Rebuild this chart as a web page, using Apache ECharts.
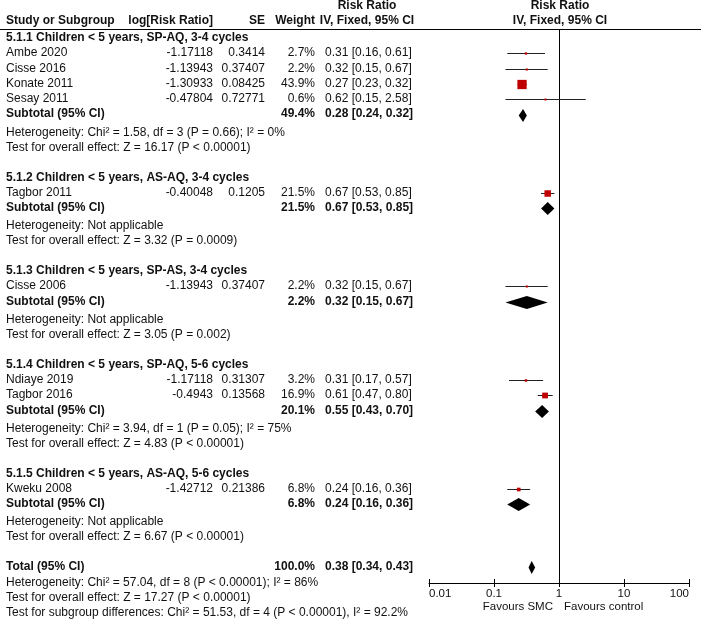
<!DOCTYPE html>
<html><head><meta charset="utf-8">
<script src="https://cdn.jsdelivr.net/npm/echarts@6/dist/echarts.min.js"></script>
<style>html,body{margin:0;padding:0;background:#fff}#c{width:701px;height:624px}</style>
</head><body><div id="c"></div><script>
// ---------- DATA ----------
const groupTitles = [
  '5.1.1 Children < 5 years, SP-AQ, 3-4 cycles',
  '5.1.2 Children < 5 years, AS-AQ, 3-4 cycles',
  '5.1.3 Children < 5 years, SP-AS, 3-4 cycles',
  '5.1.4 Children < 5 years, SP-AQ, 5-6 cycles',
  '5.1.5 Children < 5 years, AS-AQ, 5-6 cycles'
];
const studyNames = ['Ambe 2020','Cisse 2016','Konate 2011','Sesay 2011','Tagbor 2011','Cisse 2006','Ndiaye 2019','Tagbor 2016','Kweku 2008'];
const studyGroup = [0,0,0,0,1,2,3,3,4];
const logRR  = ['-1.17118','-1.13943','-1.30933','-0.47804','-0.40048','-1.13943','-1.17118','-0.4943','-1.42712'];
const seVals = ['0.3414','0.37407','0.08425','0.72771','0.1205','0.37407','0.31307','0.13568','0.21386'];
const weight = [2.7, 2.2, 43.9, 0.6, 21.5, 2.2, 3.2, 16.9, 6.8];
const rr     = [0.31, 0.32, 0.27, 0.62, 0.67, 0.32, 0.31, 0.61, 0.24];
const rrLow  = [0.16, 0.15, 0.23, 0.15, 0.53, 0.15, 0.17, 0.47, 0.16];
const rrHigh = [0.61, 0.67, 0.32, 2.58, 0.85, 0.67, 0.57, 0.80, 0.36];
const subWeight = [49.4, 21.5, 2.2, 20.1, 6.8];
const subRR     = [0.28, 0.67, 0.32, 0.55, 0.24];
const subLow    = [0.24, 0.53, 0.15, 0.43, 0.16];
const subHigh   = [0.32, 0.85, 0.67, 0.70, 0.36];
const hetTexts = [
  'Heterogeneity: Chi\u00b2 = 1.58, df = 3 (P = 0.66); I\u00b2 = 0%',
  'Heterogeneity: Not applicable',
  'Heterogeneity: Not applicable',
  'Heterogeneity: Chi\u00b2 = 3.94, df = 1 (P = 0.05); I\u00b2 = 75%',
  'Heterogeneity: Not applicable'
];
const testTexts = [
  'Test for overall effect: Z = 16.17 (P < 0.00001)',
  'Test for overall effect: Z = 3.32 (P = 0.0009)',
  'Test for overall effect: Z = 3.05 (P = 0.002)',
  'Test for overall effect: Z = 4.83 (P < 0.00001)',
  'Test for overall effect: Z = 6.67 (P < 0.00001)'
];
const totalWeight = 100.0, totalRR = 0.38, totalLow = 0.34, totalHigh = 0.43;
const totalNotes = [
  'Heterogeneity: Chi\u00b2 = 57.04, df = 8 (P < 0.00001); I\u00b2 = 86%',
  'Test for overall effect: Z = 17.27 (P < 0.00001)',
  'Test for subgroup differences: Chi\u00b2 = 51.53, df = 4 (P < 0.00001), I\u00b2 = 92.2%'
];
const tickLabels = ['0.01', '0.1', '1', '10', '100'];
const favourLeft = 'Favours SMC', favourRight = 'Favours control';

// ---------- LAYOUT ----------
const FONT = '"Liberation Sans", Arial, sans-serif';
const FS = 12, AFS = 11.5;
const COL = {name: 6, log: 213, se: 265, wt: 315, ci: 325, riskHdr: 367, plotHdr: 560};
const ROW = 15.3, GAP_SUB = 18, GAP_LINE = 15, GAP_GROUP = 30;
const HDR_LINE = 29, AXIS_Y = 583;
const fmtCI = (a, l, h) => a.toFixed(2) + ' [' + l.toFixed(2) + ', ' + h.toFixed(2) + ']';

const texts = [];
const T = (x, y, text, align, bold, size) => texts.push({value: [x, y], text, align, bold: !!bold, size: size || FS});
const studyRows = [], diamondRows = [];

T(COL.riskHdr, 6, 'Risk Ratio', 'center', true);
T(COL.plotHdr, 6, 'Risk Ratio', 'center', true);
T(COL.name, 21, 'Study or Subgroup', 'left', true);
T(COL.log, 21, 'log[Risk Ratio]', 'right', true);
T(COL.se, 21, 'SE', 'right', true);
T(COL.wt, 21, 'Weight', 'right', true);
T(COL.riskHdr, 21, 'IV, Fixed, 95% CI', 'center', true);
T(COL.plotHdr, 21, 'IV, Fixed, 95% CI', 'center', true);

let y = 38;
groupTitles.forEach((g, gi) => {
  T(COL.name, y, g, 'left', true); y += ROW;
  studyNames.forEach((n, i) => {
    if (studyGroup[i] !== gi) return;
    T(COL.name, y, n, 'left');
    T(COL.log, y, logRR[i], 'right');
    T(COL.se, y, seVals[i], 'right');
    T(COL.wt, y, weight[i].toFixed(1) + '%', 'right');
    T(COL.ci, y, fmtCI(rr[i], rrLow[i], rrHigh[i]), 'left');
    studyRows.push([rr[i], y, rrLow[i], rrHigh[i], weight[i]]);
    y += ROW;
  });
  T(COL.name, y, 'Subtotal (95% CI)', 'left', true);
  T(COL.wt, y, subWeight[gi].toFixed(1) + '%', 'right', true);
  T(COL.ci, y, fmtCI(subRR[gi], subLow[gi], subHigh[gi]), 'left', true);
  diamondRows.push([subRR[gi], y, subLow[gi], subHigh[gi]]);
  y += GAP_SUB;
  T(COL.name, y, hetTexts[gi], 'left'); y += GAP_LINE;
  T(COL.name, y, testTexts[gi], 'left'); y += GAP_GROUP;
});
T(COL.name, y, 'Total (95% CI)', 'left', true);
T(COL.wt, y, totalWeight.toFixed(1) + '%', 'right', true);
T(COL.ci, y, fmtCI(totalRR, totalLow, totalHigh), 'left', true);
diamondRows.push([totalRR, y, totalLow, totalHigh]);
y += 16;
totalNotes.forEach(t => { T(COL.name, y, t, 'left'); y += GAP_LINE; });
T(553, 607, favourLeft, 'right', false, AFS);
T(564, 607, favourRight, 'left', false, AFS);

// ---------- CHART ----------
const chart = echarts.init(document.getElementById('c'), null, {renderer: 'canvas'});
const crisp = v => Math.round(v) + 0.5;
const plotGrid = {left: 429, width: 260, top: 0, height: AXIS_Y};
const logAxisBase = {
  type: 'log', logBase: 10, min: 0.01, max: 100, splitNumber: 4, position: 'bottom',
  splitLine: {show: false}
};
chart.setOption({
  animation: false,
  grid: [
    plotGrid,
    {left: 0, width: 701, top: 0, height: AXIS_Y},
    Object.assign({}, plotGrid)
  ],
  xAxis: [
    Object.assign({}, logAxisBase, {
      gridIndex: 0,
      axisLine: {show: true, onZero: false, lineStyle: {color: '#000', width: 1}},
      axisTick: {show: true, length: 4, lineStyle: {color: '#000'}},
      axisLabel: {
        show: true, margin: 5, color: '#111', fontFamily: FONT, fontSize: AFS,
        alignMinLabel: 'left', alignMaxLabel: 'right',
        formatter: v => tickLabels[Math.round(Math.log10(v)) + 2]
      }
    }),
    {type: 'value', gridIndex: 1, min: 0, max: 701, show: false},
    Object.assign({}, logAxisBase, {
      gridIndex: 2,
      axisLine: {show: false, onZero: false},
      axisTick: {show: true, inside: true, length: 4, lineStyle: {color: '#000'}},
      axisLabel: {show: false}
    })
  ],
  yAxis: [
    {type: 'value', gridIndex: 0, min: 0, max: AXIS_Y, inverse: true, show: false},
    {type: 'value', gridIndex: 1, min: 0, max: AXIS_Y, inverse: true, show: false},
    {type: 'value', gridIndex: 2, min: 0, max: AXIS_Y, inverse: true, show: false}
  ],
  series: [
    { // header rule
      type: 'custom', xAxisIndex: 1, yAxisIndex: 1, silent: true,
      data: [[0, HDR_LINE, 701]],
      renderItem: (p, api) => {
        const a = api.coord([api.value(0), api.value(1)]);
        const b = api.coord([api.value(2), api.value(1)]);
        return {type: 'line', shape: {x1: a[0], y1: crisp(a[1]), x2: b[0], y2: crisp(a[1])}, style: {stroke: '#000', lineWidth: 1}};
      }
    },
    { // line of no effect
      type: 'custom', xAxisIndex: 0, yAxisIndex: 0, silent: true,
      data: [[1, HDR_LINE, AXIS_Y]],
      renderItem: (p, api) => {
        const a = api.coord([api.value(0), api.value(1)]);
        const b = api.coord([api.value(0), api.value(2)]);
        const x = crisp(a[0]);
        return {type: 'line', shape: {x1: x, y1: a[1], x2: x, y2: b[1]}, style: {stroke: '#000', lineWidth: 1}};
      }
    },
    { // study CIs + squares
      type: 'custom', xAxisIndex: 0, yAxisIndex: 0, silent: true,
      data: studyRows,
      renderItem: (p, api) => {
        const yv = api.value(1);
        const c = api.coord([api.value(0), yv]);
        const l = api.coord([api.value(2), yv]);
        const h = api.coord([api.value(3), yv]);
        const yy = crisp(c[1]);
        const s = Math.max(2, 1.4 * Math.sqrt(api.value(4)));
        return {type: 'group', children: [
          {type: 'line', shape: {x1: l[0], y1: yy, x2: h[0], y2: yy}, style: {stroke: '#222', lineWidth: 1}},
          {type: 'rect', shape: {x: c[0] - s / 2, y: yy - s / 2, width: s, height: s}, style: {fill: '#c00000'}}
        ]};
      }
    },
    { // diamonds
      type: 'custom', xAxisIndex: 0, yAxisIndex: 0, silent: true,
      data: diamondRows,
      renderItem: (p, api) => {
        const yv = api.value(1);
        const c = api.coord([api.value(0), yv]);
        const l = api.coord([api.value(2), yv]);
        const h = api.coord([api.value(3), yv]);
        const yy = Math.round(c[1]) + 0.5;
        return {type: 'polygon', shape: {points: [[l[0], yy], [c[0], yy - 6.5], [h[0], yy], [c[0], yy + 6.5]]}, style: {fill: '#000'}};
      }
    },
    { // texts
      type: 'custom', xAxisIndex: 1, yAxisIndex: 1, silent: true,
      data: texts.map(t => t.value),
      renderItem: (p, api) => {
        const t = texts[p.dataIndex];
        const c = api.coord([api.value(0), api.value(1)]);
        return {type: 'text', x: Math.round(c[0]), y: Math.round(c[1]), style: {
          text: t.text, fill: '#111', font: (t.bold ? 'bold ' : '') + t.size + 'px ' + FONT,
          align: t.align, textAlign: t.align, verticalAlign: 'middle', textVerticalAlign: 'middle'
        }};
      }
    }
  ]
});
</script></body></html>
